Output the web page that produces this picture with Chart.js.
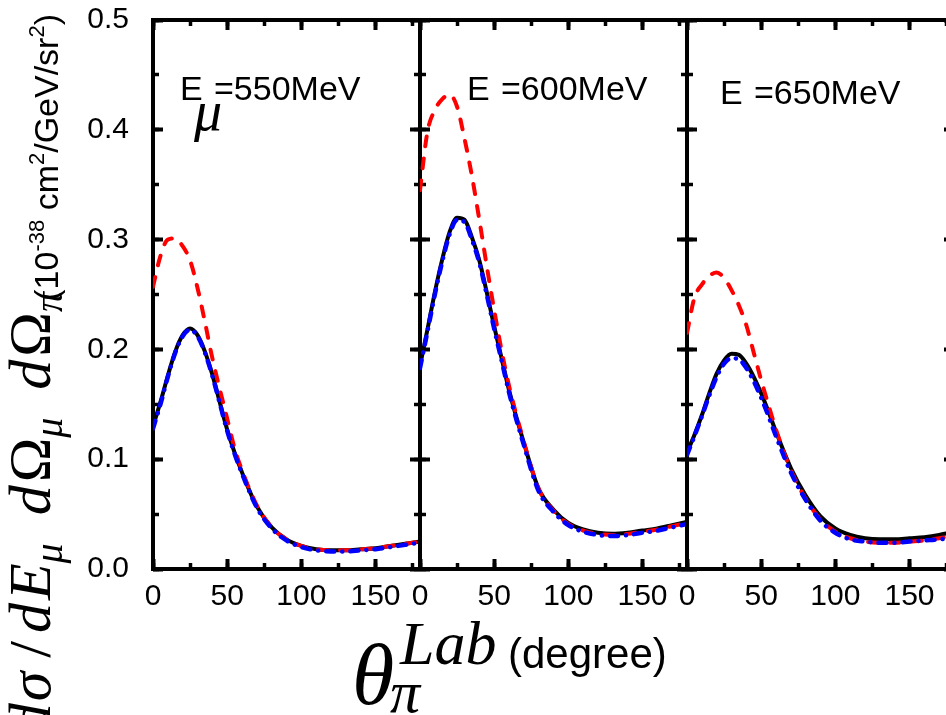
<!DOCTYPE html>
<html>
<head>
<meta charset="utf-8">
<script src="https://cdn.jsdelivr.net/npm/chart.js@4.4.1/dist/chart.umd.min.js"></script>
<style>
  html, body { margin: 0; padding: 0; background: #fff; width: 946px; height: 715px; overflow: hidden; }
  canvas.panel { position: absolute; left: 0; top: 0; }
</style>
</head>
<body>
<canvas id="panel0" class="panel" width="960" height="715"></canvas>
<canvas id="panel1" class="panel" width="960" height="715"></canvas>
<canvas id="panel2" class="panel" width="960" height="715"></canvas>
<script>
// pion lab angle (degree)
const angles = [0, 5, 10, 15, 20, 25, 30, 35, 40, 45, 50, 55, 60, 70, 80, 90, 100, 110, 120, 130, 140, 150, 160, 170, 180];
const energies = [550, 600, 650];

// cross sections, 10^-38 cm^2/GeV/sr^2
const solid550   = [0.130, 0.152, 0.176, 0.198, 0.213, 0.219, 0.213, 0.198, 0.177, 0.152, 0.127, 0.106, 0.088, 0.057, 0.038, 0.027, 0.021, 0.018, 0.017, 0.017, 0.018, 0.019, 0.021, 0.023, 0.025];
const dashed550  = [0.257, 0.285, 0.300, 0.301, 0.294, 0.281, 0.256, 0.225, 0.192, 0.164, 0.137, 0.110, 0.090, 0.058, 0.038, 0.027, 0.021, 0.018, 0.017, 0.017, 0.018, 0.019, 0.021, 0.023, 0.025];
const dashDot550 = [0.128, 0.150, 0.175, 0.197, 0.212, 0.218, 0.212, 0.197, 0.176, 0.151, 0.126, 0.105, 0.087, 0.056, 0.037, 0.026, 0.020, 0.017, 0.016, 0.016, 0.017, 0.018, 0.020, 0.022, 0.024];

const solid600   = [0.185, 0.218, 0.252, 0.282, 0.307, 0.320, 0.318, 0.302, 0.281, 0.252, 0.221, 0.192, 0.163, 0.115, 0.073, 0.054, 0.042, 0.036, 0.033, 0.032, 0.033, 0.035, 0.037, 0.040, 0.043];
const dashed600  = [0.345, 0.398, 0.418, 0.428, 0.432, 0.421, 0.392, 0.358, 0.318, 0.276, 0.236, 0.199, 0.167, 0.116, 0.073, 0.053, 0.041, 0.035, 0.032, 0.031, 0.032, 0.034, 0.036, 0.039, 0.042];
const dashDot600 = [0.183, 0.216, 0.250, 0.280, 0.305, 0.318, 0.316, 0.300, 0.279, 0.250, 0.219, 0.190, 0.161, 0.113, 0.071, 0.052, 0.040, 0.034, 0.031, 0.030, 0.031, 0.033, 0.035, 0.038, 0.041];

const solid650   = [0.106, 0.122, 0.140, 0.160, 0.178, 0.190, 0.196, 0.195, 0.187, 0.175, 0.160, 0.143, 0.125, 0.092, 0.067, 0.048, 0.037, 0.031, 0.028, 0.027, 0.027, 0.028, 0.029, 0.031, 0.034];
const dashed650  = [0.215, 0.247, 0.259, 0.267, 0.270, 0.265, 0.254, 0.240, 0.222, 0.197, 0.172, 0.149, 0.127, 0.090, 0.064, 0.045, 0.034, 0.028, 0.025, 0.024, 0.024, 0.025, 0.026, 0.028, 0.030];
const dashDot650 = [0.104, 0.121, 0.139, 0.158, 0.175, 0.187, 0.192, 0.191, 0.183, 0.171, 0.156, 0.139, 0.121, 0.088, 0.063, 0.044, 0.033, 0.027, 0.025, 0.024, 0.024, 0.025, 0.026, 0.027, 0.029];

const panels = [
  { solid: solid550, dashed: dashed550, dashDot: dashDot550 },
  { solid: solid600, dashed: dashed600, dashDot: dashDot600 },
  { solid: solid650, dashed: dashed650, dashDot: dashDot650 }
];

// layout
const CW = 960, CH = 715;
const panelLeft = [153, 420, 687];
const panelWidth = 267;
const plotTop = 20, plotBottom = 569;
const yAxisBox = 70, xAxisBox = 60;
const labelPos = [[180, 100], [467, 100], [720, 104]];

Chart.defaults.font.family = '"Liberation Sans", Arial, sans-serif';
Chart.defaults.color = '#000';

const sans = s => `${s}px "Liberation Sans", Arial, sans-serif`;
const serif = s => `${s}px "Liberation Serif", "Times New Roman", serif`;
const serifI = s => `italic ${s}px "Liberation Serif", "Times New Roman", serif`;

// fixed box sizes so every panel's plot area sits where the layout padding puts it
function fixSize(extent) {
  return scale => {
    if (scale.isHorizontal()) scale.height = extent; else scale.width = extent;
    scale.paddingTop = scale.paddingBottom = scale.paddingLeft = scale.paddingRight = 0;
  };
}

// inward tick marks only
function tickAxis(position, max, step, len, width) {
  return {
    type: 'linear', position, min: 0, max,
    afterFit: fixSize(0),
    border: { display: false },
    grid: { drawOnChartArea: false, drawTicks: true, tickLength: -len, tickWidth: width, tickColor: '#000' },
    ticks: { display: false, stepSize: step, includeBounds: false, autoSkip: false }
  };
}

// frame line, with tick labels where asked
function frameAxis(position, max, step, labels) {
  const extent = position === 'bottom' ? xAxisBox : position === 'left' ? yAxisBox : 0;
  return {
    type: 'linear', position, min: 0, max,
    afterFit: fixSize(extent),
    border: { display: true, width: 4, color: '#000' },
    grid: { display: false },
    ticks: {
      display: labels,
      stepSize: step,
      includeBounds: false,
      autoSkip: false,
      maxRotation: 0,
      font: { size: 30 },
      color: '#000',
      padding: position === 'bottom' ? 2 : 16,
      callback: position === 'left' ? (v => v.toFixed(1)) : (v => String(v))
    }
  };
}

function toPoints(ys) {
  return angles.map((a, i) => ({ x: a, y: ys[i] }));
}

// text runs along one baseline; each run may shift (dy) and leave a gap after it
function drawRuns(ctx, runs) {
  let x = 0;
  for (const r of runs) {
    ctx.font = r.font;
    ctx.fillText(r.text, x, r.dy || 0);
    x += ctx.measureText(r.text).width + (r.gap || 0);
  }
  return x;
}
function runsWidth(ctx, runs) {
  let w = 0;
  for (const r of runs) { ctx.font = r.font; w += ctx.measureText(r.text).width + (r.gap || 0); }
  return w;
}

// energy label inside each panel
const panelLabel = {
  id: 'panelLabel',
  afterDraw(chart, args, opts) {
    const ctx = chart.ctx;
    const [lx, ly] = labelPos[opts.index];
    ctx.save();
    ctx.fillStyle = '#000';
    ctx.textBaseline = 'alphabetic';
    ctx.font = sans(34);
    ctx.fillText('E', lx, ly);
    ctx.fillText('=' + energies[opts.index] + 'MeV', lx + 34, ly);
    if (opts.index === 0) {
      ctx.font = serifI(56);
      ctx.fillText('μ', lx + 14, ly + 30);
    }
    ctx.restore();
  }
};

// axis titles, drawn once on the first panel's canvas
const axisTitles = {
  id: 'axisTitles',
  afterDraw(chart) {
    const ctx = chart.ctx;
    ctx.save();
    ctx.fillStyle = '#000';
    ctx.textBaseline = 'alphabetic';

    // x title
    ctx.font = serifI(86);
    ctx.fillText('θ', 352, 704);
    ctx.font = serifI(60);
    ctx.fillText('π', 390, 712);
    ctx.font = serifI(62);
    ctx.fillText('Lab', 400, 664);
    ctx.font = sans(42);
    ctx.fillText('(degree)', 508, 668);

    // y title, rotated to read upwards
    const sub = 40, big = 60;
    const mathRuns = [
      { text: 'd', font: serifI(big), gap: 2 }, { text: 'σ', font: serifI(big), gap: 14 }, { text: '/', font: serif(big), gap: 8 },
      { text: 'd', font: serifI(big), gap: 3 }, { text: 'E', font: serifI(big) }, { text: 'μ', font: serifI(sub), dy: 12, gap: 28 },
      { text: 'd', font: serifI(big), gap: 3 }, { text: 'Ω', font: serif(big) }, { text: 'μ', font: serifI(sub), dy: 12, gap: 28 },
      { text: 'd', font: serifI(big), gap: 3 }, { text: 'Ω', font: serif(big) }, { text: 'π', font: serifI(sub), dy: 12 }
    ];
    const unitRuns = [
      { text: '(10', font: sans(34) }, { text: '-38', font: sans(22), dy: -14 }, { text: ' cm', font: sans(34) },
      { text: '2', font: sans(22), dy: -14 }, { text: '/GeV/sr', font: sans(34) }, { text: '2', font: sans(22), dy: -14 },
      { text: ')', font: sans(34) }
    ];
    const mw = runsWidth(ctx, mathRuns);
    ctx.save();
    ctx.translate(50, 0);
    ctx.rotate(-Math.PI / 2);
    ctx.translate(-292 - mw, 0);
    drawRuns(ctx, mathRuns);
    ctx.restore();

    const uw = runsWidth(ctx, unitRuns);
    ctx.save();
    ctx.translate(58, 0);
    ctx.rotate(-Math.PI / 2);
    ctx.translate(-14 - uw, 0);
    drawRuns(ctx, unitRuns);
    ctx.restore();

    ctx.restore();
  }
};

panels.forEach((p, i) => {
  new Chart(document.getElementById('panel' + i), {
    type: 'line',
    data: {
      datasets: [
        {
          data: toPoints(p.dashDot), borderColor: '#0000ff', borderWidth: 4.5,
          borderDash: [8, 8, 0.1, 8], borderCapStyle: 'round'
        },
        {
          data: toPoints(p.dashed), borderColor: '#ff0000', borderWidth: 4,
          borderDash: [10, 12], borderCapStyle: 'round'
        },
        {
          data: toPoints(p.solid), borderColor: '#000000', borderWidth: 4
        }
      ]
    },
    options: {
      responsive: false,
      animation: false,
      events: [],
      elements: {
        point: { radius: 0 },
        line: { cubicInterpolationMode: 'monotone', fill: false }
      },
      layout: {
        padding: {
          left: panelLeft[i] - yAxisBox,
          right: CW - panelLeft[i] - panelWidth,
          top: plotTop,
          bottom: CH - plotBottom - xAxisBox
        }
      },
      // tick axes are listed before the frame axes so they sit on the plot edge
      scales: {
        x: tickAxis('bottom', 180, 50, 10, 4),
        xm: tickAxis('bottom', 180, 25, 6, 3.5),
        xt: tickAxis('top', 180, 50, 10, 4),
        xtm: tickAxis('top', 180, 25, 6, 3.5),
        y: tickAxis('left', 0.5, 0.1, 10, 4),
        ym: tickAxis('left', 0.5, 0.05, 6, 3.5),
        yr: tickAxis('right', 0.5, 0.1, 10, 4),
        yrm: tickAxis('right', 0.5, 0.05, 6, 3.5),
        xFrame: frameAxis('bottom', 180, 50, true),
        xTopFrame: frameAxis('top', 180, 50, false),
        yFrame: frameAxis('left', 0.5, 0.1, i === 0),
        yRightFrame: frameAxis('right', 0.5, 0.1, false)
      },
      plugins: {
        legend: { display: false },
        tooltip: { enabled: false },
        panelLabel: { index: i }
      }
    },
    plugins: i === 0 ? [panelLabel, axisTitles] : [panelLabel]
  });
});
</script>
</body>
</html>
